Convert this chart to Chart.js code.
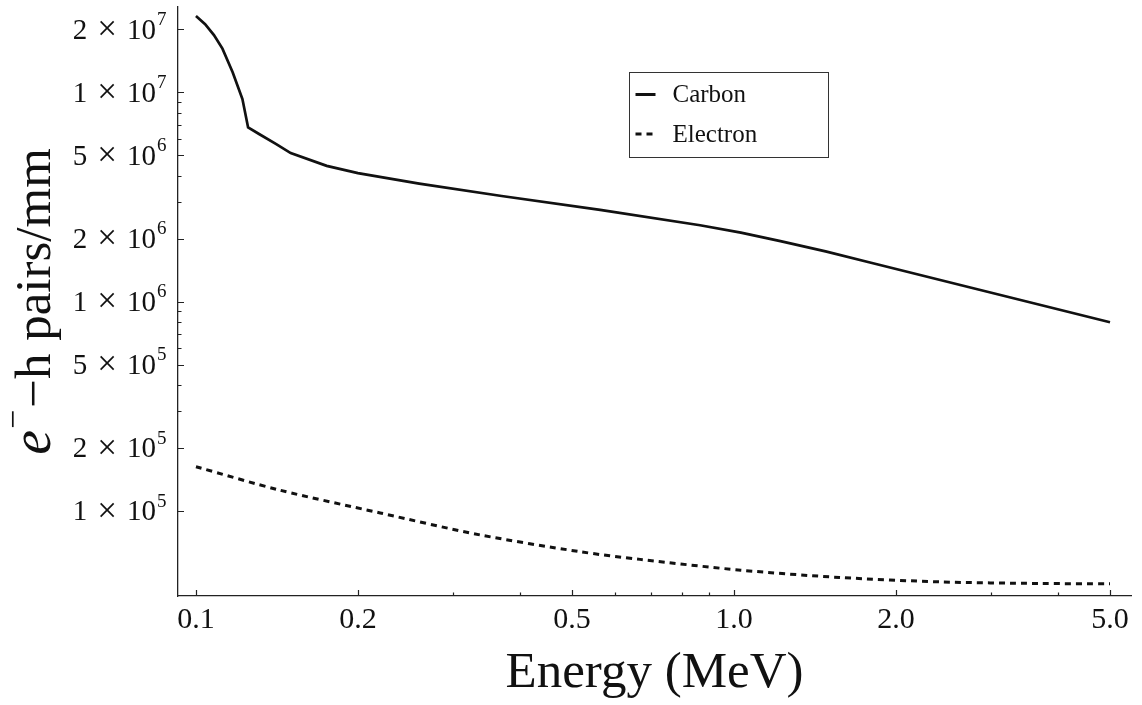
<!DOCTYPE html>
<html>
<head>
<meta charset="utf-8">
<title>e-h pairs per mm vs energy</title>
<script src="https://cdn.jsdelivr.net/npm/chart.js@4"></script>
<style>
  html, body { margin: 0; padding: 0; background: #fff; }
  #wrap { width: 1142px; height: 705px; }
</style>
</head>
<body>
<div id="wrap"><canvas id="chart"></canvas></div>
<script>
// Carbon ion curve (MeV, e-h pairs per mm)
const carbonEnergy = [0.1, 0.104, 0.108, 0.112, 0.117, 0.122, 0.125, 0.131, 0.141, 0.15, 0.175, 0.2, 0.26, 0.37, 0.564, 0.865, 1.03, 1.22, 1.48, 1.79, 2.75, 5.0];
const carbonPairs = [2.32e7, 2.12e7, 1.88e7, 1.62e7, 1.25e7, 9.3e6, 6.8e6, 6.33e6, 5.67e6, 5.13e6, 4.46e6, 4.12e6, 3.67e6, 3.2e6, 2.75e6, 2.32e6, 2.14e6, 1.95e6, 1.74e6, 1.54e6, 1.17e6, 7.98e5];

// Electron curve
const electronEnergy = [0.1, 0.143, 0.22, 0.337, 0.517, 0.669, 1.03, 1.57, 2.42, 3.7, 5.0];
const electronPairs = [1.63e5, 1.26e5, 9.8e4, 7.7e4, 6.4e4, 5.88e4, 5.22e4, 4.82e4, 4.59e4, 4.51e4, 4.5e4];

// tick positions; only the "labelled" ones get text and long marks
const xTickValues = [0.1, 0.2, 0.3, 0.4, 0.5, 0.6, 0.7, 0.8, 0.9, 1, 2, 3, 4, 5];
const xTickLabels = [0.1, 0.2, 0.5, 1, 2, 5];
const yTickValues = [1e5, 2e5, 3e5, 4e5, 5e5, 6e5, 7e5, 8e5, 9e5, 1e6, 2e6, 3e6, 4e6, 5e6, 6e6, 7e6, 8e6, 9e6, 1e7, 2e7];
const yTickLabels = [1e5, 2e5, 5e5, 1e6, 2e6, 5e6, 1e7, 2e7];

const SERIF = '"Liberation Serif", "Times New Roman", serif';
const INK = '#111';

const toPoints = (xs, ys) => xs.map((x, i) => ({ x: x, y: ys[i] }));

// inward tick marks, y labels with exponents, rotated y title and the legend box
const decorations = {
  id: 'decorations',
  afterDraw(chart) {
    const { ctx, chartArea: a, scales: { x, y } } = chart;
    ctx.save();

    ctx.strokeStyle = '#222';
    ctx.lineWidth = 1.2;
    ctx.beginPath();
    xTickValues.forEach(v => {
      const px = Math.round(x.getPixelForValue(v)) + 0.5;
      const len = xTickLabels.includes(v) ? 6 : 3.5;
      ctx.moveTo(px, a.bottom);
      ctx.lineTo(px, a.bottom - len);
    });
    yTickValues.forEach(v => {
      const py = Math.round(y.getPixelForValue(v)) + 0.5;
      const len = yTickLabels.includes(v) ? 6 : 3.5;
      ctx.moveTo(a.left, py);
      ctx.lineTo(a.left + len, py);
    });
    ctx.stroke();

    // y labels like 2×10^7
    ctx.fillStyle = INK;
    ctx.textBaseline = 'middle';
    yTickLabels.forEach(v => {
      const exp = Math.floor(Math.log10(v) + 1e-9);
      const mant = Math.round(v / Math.pow(10, exp));
      const py = y.getPixelForValue(v) + 1.5;
      const right = a.left - 22;
      ctx.font = '29px ' + SERIF;
      ctx.textAlign = 'right';
      ctx.fillText('10', right, py);
      ctx.textAlign = 'center';
      ctx.fillText(String(mant), right - 76, py);
      ctx.font = '35px ' + SERIF;
      ctx.fillText('×', right - 49, py);
      ctx.font = '19px ' + SERIF;
      ctx.textAlign = 'left';
      ctx.fillText(String(exp), right + 1, py - 11);
    });

    // y title: e^- - h pairs/mm
    ctx.save();
    ctx.translate(50, (a.top + a.bottom) / 2);
    ctx.rotate(-Math.PI / 2);
    ctx.textAlign = 'left';
    ctx.textBaseline = 'alphabetic';
    const ital = 'italic 56px ' + SERIF, sup = '34px ' + SERIF, big = '51px ' + SERIF;
    ctx.font = ital; const wE = ctx.measureText('e').width;
    ctx.font = sup; const wS = ctx.measureText('−').width;
    ctx.font = big; const wR = ctx.measureText('−h pairs/mm').width;
    let u = -(wE + 1 + wS + 2 + wR) / 2;
    ctx.font = ital; ctx.fillText('e', u, 0); u += wE + 1;
    ctx.font = sup; ctx.fillText('−', u, -26); u += wS + 2;
    ctx.font = big; ctx.fillText('−h pairs/mm', u, 0);
    ctx.restore();

    // legend
    const box = { x: 629.5, y: 72.5, w: 199, h: 85 };
    ctx.fillStyle = '#fff';
    ctx.fillRect(box.x, box.y, box.w, box.h);
    ctx.strokeStyle = '#333';
    ctx.lineWidth = 1;
    ctx.strokeRect(box.x, box.y, box.w, box.h);
    chart.data.datasets.forEach((ds, i) => {
      const cy = box.y + 22 + i * 39.5;
      ctx.strokeStyle = ds.borderColor;
      ctx.lineWidth = 3;
      ctx.setLineDash(ds.borderDash || []);
      ctx.beginPath();
      ctx.moveTo(box.x + 6, cy);
      ctx.lineTo(box.x + 26, cy);
      ctx.stroke();
      ctx.setLineDash([]);
      ctx.fillStyle = INK;
      ctx.font = '25px ' + SERIF;
      ctx.textAlign = 'left';
      ctx.textBaseline = 'middle';
      ctx.fillText(ds.label, box.x + 43, cy + 1);
    });

    ctx.restore();
  }
};

new Chart(document.getElementById('chart'), {
  type: 'line',
  data: {
    datasets: [
      {
        label: 'Carbon',
        data: toPoints(carbonEnergy, carbonPairs),
        borderColor: INK,
        borderWidth: 2.7,
        pointRadius: 0,
        tension: 0
      },
      {
        label: 'Electron',
        data: toPoints(electronEnergy, electronPairs),
        borderColor: INK,
        borderWidth: 3,
        borderDash: [6, 5],
        pointRadius: 0,
        tension: 0.3
      }
    ]
  },
  options: {
    responsive: true,
    maintainAspectRatio: false,
    animation: false,
    layout: { padding: { top: 7, right: 11, left: 0, bottom: 0 } },
    plugins: {
      legend: { display: false },
      tooltip: { enabled: false }
    },
    scales: {
      x: {
        type: 'logarithmic',
        min: 0.0926,
        max: 5.47,
        afterFit: scale => { scale.height = 109; },
        afterBuildTicks: scale => { scale.ticks = xTickValues.map(v => ({ value: v })); },
        grid: { display: false, drawTicks: false },
        border: { display: true, color: '#222', width: 1.3 },
        ticks: {
          autoSkip: false,
          maxRotation: 0,
          padding: 6,
          color: INK,
          font: { family: SERIF, size: 30 },
          callback: v => xTickLabels.includes(v) ? v.toFixed(1) : ''
        },
        title: {
          display: true,
          text: 'Energy (MeV)',
          color: INK,
          font: { family: SERIF, size: 51 },
          padding: { top: 0, bottom: 1 }
        }
      },
      y: {
        type: 'logarithmic',
        min: 3.93e4,
        max: 2.56e7,
        afterFit: scale => { scale.width = 178; },
        afterBuildTicks: scale => { scale.ticks = yTickValues.map(v => ({ value: v })); },
        grid: { display: false, drawTicks: false },
        border: { display: true, color: '#222', width: 1.3 },
        ticks: { display: false }
      }
    }
  },
  plugins: [decorations]
});
</script>
</body>
</html>
